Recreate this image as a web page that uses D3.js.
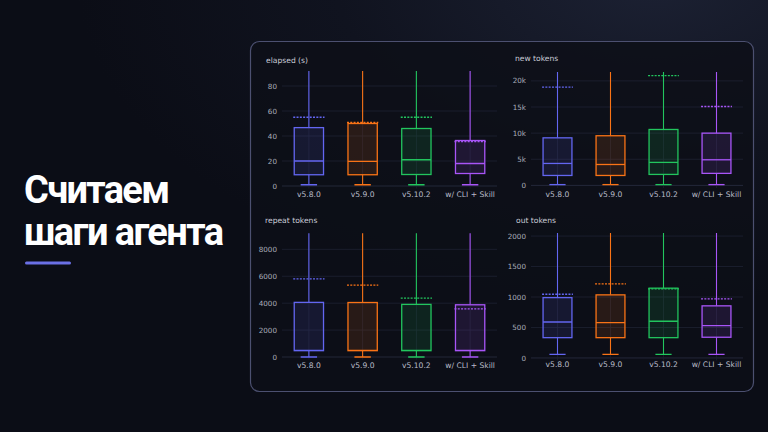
<!DOCTYPE html>
<html>
<head>
<meta charset="utf-8">
<script src="https://cdn.jsdelivr.net/npm/d3@7/dist/d3.min.js"></script>
<style>
  html, body { margin: 0; padding: 0; background: #0b0d16; }
  svg { display: block; }
</style>
</head>
<body>
<svg id="slide" width="768" height="432"></svg>
<script>
//// DATA

const categories = ["v5.8.0", "v5.9.0", "v5.10.2", "w/ CLI + Skill"];
const colors = ["#6366f1", "#f97316", "#22c55e", "#a855f7"];

// [min, q1, median, q3, max] per category; max runs past the visible range
const elapsedBox = [[1, 9, 20, 46.7, 140], [1, 9, 19.7, 50, 140], [1, 9.2, 21, 46, 140], [1, 10, 18, 36.4, 140]];
const elapsedMean = [55, 50.8, 55, 35.6];
const elapsedTicks = [0, 20, 40, 60, 80];

const newTokensBox = [[150, 1900, 4200, 9100, 60000], [150, 1900, 4000, 9500, 60000], [150, 2100, 4400, 10700, 60000], [150, 2300, 4900, 10000, 60000]];
const newTokensMean = [18800, 23500, 21000, 15100];
const newTokensTicks = [0, 5000, 10000, 15000, 20000];

const repeatTokensBox = [[0, 470, 500, 4060, 20000], [0, 470, 500, 4050, 20000], [0, 470, 500, 3910, 20000], [0, 470, 500, 3880, 20000]];
const repeatTokensMean = [5800, 5340, 4370, 3580];
const repeatTokensTicks = [0, 2000, 4000, 6000, 8000];

const outTokensBox = [[60, 333, 590, 990, 4000], [60, 333, 580, 1035, 4000], [60, 333, 602, 1145, 4000], [60, 340, 530, 855, 4000]];
const outTokensMean = [1045, 1215, 1132, 968];
const outTokensTicks = [0, 500, 1000, 1500, 2000];

//// LAYOUT

const panels = [
    { title: "elapsed (s)", box: elapsedBox, mean: elapsedMean, ticks: elapsedTicks, fmt: d => d,
      tx: 266, ty: 63, x: [282, 497], domain: [-2, 92], y: [188.5, 71], labelY: 197 },
    { title: "new tokens", box: newTokensBox, mean: newTokensMean, ticks: newTokensTicks, fmt: d => d === 0 ? "0" : (d / 1000) + "k",
      tx: 515, ty: 61, x: [531, 743], domain: [-500, 21700], y: [188, 72], labelY: 197 },
    { title: "repeat tokens", box: repeatTokensBox, mean: repeatTokensMean, ticks: repeatTokensTicks, fmt: d => d,
      tx: 265, ty: 223, x: [282, 497], domain: [-200, 9200], y: [359.7, 233.2], labelY: 368 },
    { title: "out tokens", box: outTokensBox, mean: outTokensMean, ticks: outTokensTicks, fmt: d => d,
      tx: 516, ty: 223, x: [531, 743], domain: [-40, 2050], y: [360.4, 233], labelY: 367 },
];

const svg = d3.select("#slide");
const defs = svg.append("defs");

//// BACKGROUND

const bg = defs.append("radialGradient").attr("id", "bg")
    .attr("cx", 0.85).attr("cy", -0.05).attr("r", 0.75);
bg.append("stop").attr("offset", "0%").attr("stop-color", "#1c2133");
bg.append("stop").attr("offset", "55%").attr("stop-color", "#10131f");
bg.append("stop").attr("offset", "100%").attr("stop-color", "#0b0d16");

svg.append("rect").attr("width", 768).attr("height", 432).attr("fill", "url(#bg)");

// title on the left
const title = svg.append("g").attr("font-family", "Roboto, 'Noto Sans', sans-serif")
    .attr("font-weight", 700).attr("fill", "#ffffff").attr("font-size", 38);
title.append("text").attr("x", 24).attr("y", 203).attr("textLength", 146).text("Считаем");
title.append("text").attr("x", 24).attr("y", 245).attr("textLength", 200).text("шаги агента");
svg.append("rect").attr("x", 25).attr("y", 261.5).attr("width", 46).attr("height", 3)
    .attr("rx", 1.5).attr("fill", "#6b70e6");

// card
svg.append("rect").attr("x", 250.5).attr("y", 41.5).attr("width", 503).attr("height", 350)
    .attr("rx", 9).attr("fill", "#0d0f18").attr("fill-opacity", 0.85)
    .attr("stroke", "#4c5070").attr("stroke-width", 1.2);

//// PANELS

panels.forEach(drawPanel);

function drawPanel(p, pi) {
    const x = d3.scaleBand().domain(categories).range(p.x);
    const y = d3.scaleLinear().domain(p.domain).range(p.y);
    const g = svg.append("g").attr("font-family", "'DejaVu Sans', sans-serif");

    defs.append("clipPath").attr("id", "clip" + pi)
        .append("rect").attr("x", p.x[0]).attr("y", p.y[1])
        .attr("width", p.x[1] - p.x[0]).attr("height", p.y[0] - p.y[1]);

    g.append("text").attr("x", p.tx).attr("y", p.ty)
        .attr("font-size", 7.6).attr("fill", "#c9cbd6").text(p.title);

    // grid
    g.selectAll(".hgrid").data(p.ticks).enter().append("line")
        .attr("x1", p.x[0]).attr("x2", p.x[1])
        .attr("y1", d => y(d)).attr("y2", d => y(d))
        .attr("stroke", d => d === 0 ? "#2a2f42" : "#1e2232").attr("stroke-width", 0.8);
    g.selectAll(".vgrid").data(categories).enter().append("line")
        .attr("x1", d => x(d) + x.bandwidth() / 2).attr("x2", d => x(d) + x.bandwidth() / 2)
        .attr("y1", p.y[0]).attr("y2", p.y[1])
        .attr("stroke", "#1c2030").attr("stroke-width", 0.8);

    // y ticks
    g.selectAll(".ytick").data(p.ticks).enter().append("text")
        .attr("x", p.x[0] - 5).attr("y", d => y(d) + 2.6)
        .attr("text-anchor", "end").attr("font-size", 7.2).attr("fill", "#a9acb9")
        .text(p.fmt);

    // x ticks
    g.selectAll(".xtick").data(categories).enter().append("text")
        .attr("x", d => x(d) + x.bandwidth() / 2).attr("y", p.labelY)
        .attr("text-anchor", "middle").attr("font-size", 7.6).attr("fill", "#b9bcc9")
        .text(d => d);

    const bw = x.bandwidth() * 0.545;
    const marks = g.append("g").attr("clip-path", "url(#clip" + pi + ")");

    categories.forEach(function (c, i) {
        const [mn, q1, med, q3, mx] = p.box[i];
        const cx = x(c) + x.bandwidth() / 2;
        const col = colors[i];
        const b = marks.append("g").attr("stroke", col).attr("stroke-width", 1.3);

        // whiskers
        b.append("line").attr("x1", cx).attr("x2", cx).attr("y1", y(q3)).attr("y2", y(mx)).attr("stroke-width", 1.1);
        b.append("line").attr("x1", cx).attr("x2", cx).attr("y1", y(q1)).attr("y2", y(mn)).attr("stroke-width", 1.1);
        b.append("line").attr("x1", cx - bw * 0.28).attr("x2", cx + bw * 0.28).attr("y1", y(mn)).attr("y2", y(mn));
        b.append("line").attr("x1", cx - bw * 0.28).attr("x2", cx + bw * 0.28).attr("y1", y(mx)).attr("y2", y(mx));

        // box
        b.append("rect").attr("x", cx - bw / 2).attr("y", y(q3))
            .attr("width", bw).attr("height", y(q1) - y(q3))
            .attr("fill", col).attr("fill-opacity", 0.12);
        b.append("line").attr("x1", cx - bw / 2).attr("x2", cx + bw / 2).attr("y1", y(med)).attr("y2", y(med));

        // mean
        b.append("line").attr("x1", cx - bw / 2 - 1).attr("x2", cx + bw / 2 + 1)
            .attr("y1", y(p.mean[i])).attr("y2", y(p.mean[i]))
            .attr("stroke-dasharray", "2,1.3");
    });
}
</script>
</body>
</html>
